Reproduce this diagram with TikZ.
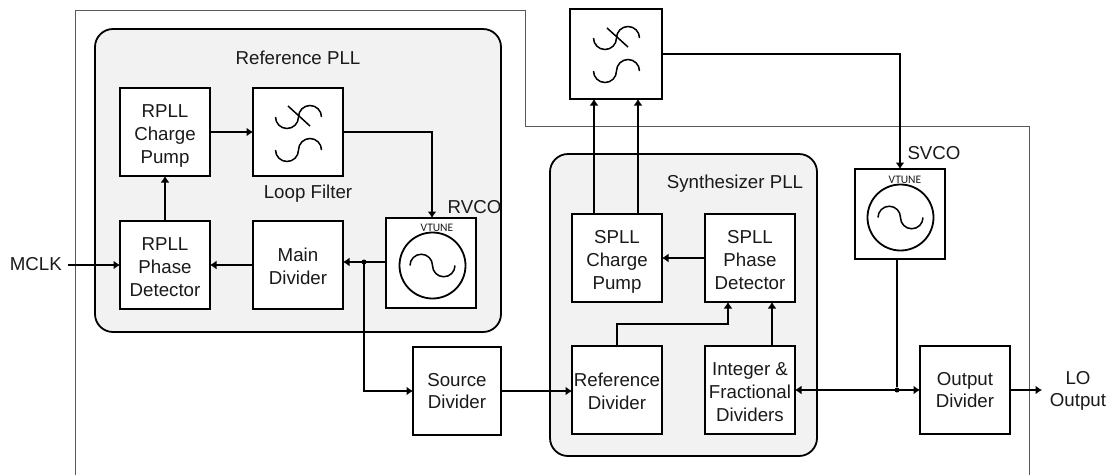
\documentclass[tikz,border=0pt]{standalone}
\usepackage{fontspec}
\setmainfont{Liberation Sans}
\newfontfamily\vtunefont{Carlito}
\usetikzlibrary{arrows.meta,calc}
\definecolor{ink}{HTML}{1A1A1A}
\definecolor{panel}{HTML}{F2F2F2}
% with y pointing down, arc angles are mirrored
\newcommand{\humpsym}[3]{% hump first: oscillator
  \draw[symline] (#1-2*#3,#2) arc[start angle=180,end angle=360,radius=#3]
                 arc[start angle=180,end angle=0,radius=#3];}
\newcommand{\bowlsym}[3]{% bowl first: filter
  \draw[symline] (#1-2*#3,#2) arc[start angle=180,end angle=0,radius=#3]
                 arc[start angle=180,end angle=360,radius=#3];}
\newcommand{\lift}[1]{\rule{0pt}{#1pt}}
\tikzset{
  x=1pt,y=-1pt,
  blk/.style={draw=black,line width=1.8pt,fill=white,align=center,outer sep=0pt,inner sep=0pt,
    text=ink,font=\fontsize{18.7}{22.8}\selectfont},
  panelbox/.style={draw=black,line width=1.8pt,fill=panel,rounded corners=18pt,outer sep=0pt,inner sep=0pt},
  lbl/.style={inner sep=0pt,align=center,text=ink,font=\fontsize{18.7}{22.6}\selectfont},
  vt/.style={inner sep=0pt,text=ink,font=\vtunefont\fontsize{11.5}{12}\selectfont},
  wire/.style={line width=2pt,draw=black},
  arr/.style={wire,-{Latex[length=6.5pt,width=9pt]}},
  darr/.style={wire,{Latex[length=6.5pt,width=9pt]}-{Latex[length=6.5pt,width=9pt]}},
  symline/.style={line width=1.5pt,draw=black},
  outline/.style={line width=1pt,draw=black!65},
  junction/.style={circle,fill=black,minimum size=5pt,inner sep=0pt}
}
\begin{document}
\begin{tikzpicture}
\useasboundingbox[fill=white] (0,0) rectangle (1112,475);
% chip outline
\coordinate (oa) at (75,475);
\coordinate (ob) at (75,10);
\coordinate (oc) at (525,10);
\coordinate (od) at (525,126.5);
\coordinate (oe) at (1029,126.5);
\coordinate (of) at (1029,475);
\draw[outline] (oa) -- (ob) -- (oc) -- (od) -- (oe) -- (of);
% panels
\node[panelbox,minimum width=406pt,minimum height=303pt] (refpll) at (298,180.5) {};
\node[panelbox,minimum width=267pt,minimum height=302pt] (synpll) at (683.5,305) {};
% reference PLL blocks
\node[blk,minimum width=90pt,minimum height=88pt] (rcp) at (165,132) {\lift{21}RPLL\\Charge\\Pump};
\node[blk,minimum width=90pt,minimum height=88pt] (rlf) at (298,132) {};
\node[blk,minimum width=90pt,minimum height=88pt] (rpd) at (165,265) {\lift{17}RPLL\\Phase\\Detector};
\node[blk,minimum width=90pt,minimum height=88pt] (mdiv) at (298,265) {\lift{16}Main\\Divider};
\node[blk,minimum width=90pt,minimum height=90pt] (rvco) at (431,263) {};
\node[blk,minimum width=88pt,minimum height=88pt] (sdiv) at (457,391) {Source\\Divider};
% synthesizer blocks
\node[blk,minimum width=90pt,minimum height=88pt] (scp) at (617,258) {\lift{21}SPLL\\Charge\\Pump};
\node[blk,minimum width=90pt,minimum height=88pt] (spd) at (750,258) {\lift{17}SPLL\\Phase\\Detector};
\node[blk,minimum width=90pt,minimum height=88pt] (rdiv) at (617,390) {\lift{16}Reference\\Divider};
\node[blk,minimum width=90pt,minimum height=88pt] (idiv) at (750,390) {\lift{17}Integer \&\\Fractional\\Dividers};
% external blocks
\node[blk,minimum width=92pt,minimum height=90pt] (slf) at (616,54) {};
\node[blk,minimum width=90pt,minimum height=90pt] (svco) at (900,214) {};
\node[blk,minimum width=90pt,minimum height=88pt] (odiv) at (965,390) {Output\\Divider};
% labels
\node[lbl] (trefpll) at (298,58) {Reference PLL};
\node[lbl] (tsynpll) at (735,183.5) {Synthesizer PLL};
\node[lbl] (tloop) at (308,193.5) {Loop Filter};
\node[lbl] (trvco) at (474.5,207) {RVCO};
\node[lbl] (tsvco) at (934,153) {SVCO};
\node[lbl,anchor=east] (mclk) at (62,264) {MCLK};
\node[lbl] (lo) at (1078,391) {LO\\Output};
\node[vt] (vt1) at (437,228) {VTUNE};
\node[vt] (vt2) at (905,180) {VTUNE};
% oscillators
\node[draw=black,line width=1.8pt,circle,minimum size=66pt,inner sep=0pt] (osc1) at (432.5,265.5) {};
\node[draw=black,line width=1.8pt,circle,minimum size=66pt,inner sep=0pt] (osc2) at (900.5,217.5) {};
\humpsym{432.5}{265.5}{11.25}
\humpsym{900.5}{217.5}{11.25}
% filter symbols
\bowlsym{298.5}{117}{11.5}
\bowlsym{298.5}{150}{11.5}
\coordinate (s1a) at (288,106);
\coordinate (s1b) at (310,126);
\draw[symline] (s1a) -- (s1b);
\bowlsym{616.5}{38}{11.5}
\bowlsym{616.5}{71}{11.5}
\coordinate (s2a) at (607,28);
\coordinate (s2b) at (628,47);
\draw[symline] (s2a) -- (s2b);
% connectors: reference PLL
\draw[arr] (rcp.east) -- (rlf.west);
\draw[arr] (rpd.north) -- (rcp.south);
\draw[arr] (mdiv.west) -- (rpd.east);
\coordinate (mclkstart) at (68,265);
\draw[arr] (mclkstart) -- (rpd.west);
\coordinate (tapr) at (432,132);
\draw[arr] (rlf.east) -- (tapr) -- (tapr |- rvco.north);
\node[junction] (j1) at (364,262) {};
\draw[arr] (rvco.west |- j1) -- (mdiv.east |- j1);
\draw[arr] (j1.center) |- (sdiv.west);
% connectors: synthesizer
\draw[arr] (sdiv.east) -- (rdiv.west |- sdiv.east);
\draw[arr] (spd.west) -- (scp.east);
\coordinate (up1) at (594,150);
\coordinate (up2) at (638,150);
\draw[arr] (scp.north -| up1) -- (slf.south -| up1);
\draw[arr] (scp.north -| up2) -- (slf.south -| up2);
\coordinate (bend) at (728,324);
\coordinate (up3) at (772,324);
\draw[arr] (rdiv.north) |- (bend) -- (bend |- spd.south);
\draw[arr] (idiv.north -| up3) -- (spd.south -| up3);
% connectors: output side
\coordinate (tapf) at (900,54);
\draw[arr] (slf.east |- tapf) -- (tapf) -- (tapf |- svco.north);
\node[junction] (j2) at (897,390) {};
\draw[wire] (svco.south -| j2) -- (j2);
\draw[darr] (idiv.east) -- (odiv.west);
\coordinate (loend) at (1042,390);
\draw[arr] (odiv.east) -- (loend);
\end{tikzpicture}
\end{document}
